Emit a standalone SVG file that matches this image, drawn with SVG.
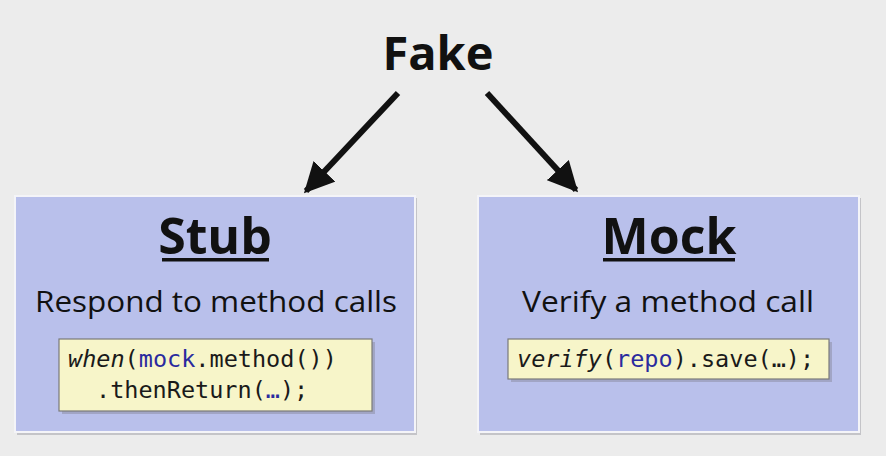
<svg xmlns="http://www.w3.org/2000/svg" width="886" height="456" viewBox="0 0 886 456">
<defs>
<style>
.box{fill:#b9c0eb;stroke:#f4f4f8;stroke-width:2}
.shadow{fill:#c4c4c8}
.title{font-family:"Open Sans","Liberation Sans",sans-serif;font-weight:bold;fill:#111;text-anchor:middle}
.sub{font-family:"Open Sans","Liberation Sans",sans-serif;font-size:30px;fill:#111;text-anchor:middle}
.code{fill:#f7f5c9;stroke:#7a7a7a;stroke-width:1.2}
.cshadow{fill:#8a8aa0;opacity:0.5}
.mono{font-family:"DejaVu Sans Mono","Liberation Mono",monospace;font-size:23.5px;fill:#1a1a1a}
.kw{fill:#2a2a9e}
.conn{stroke:#111;stroke-width:6;fill:none;marker-end:url(#ah)}
</style>
<marker id="ah" viewBox="0 0 10 10" refX="9" refY="5" markerWidth="5" markerHeight="5" orient="auto" markerUnits="strokeWidth">
<path d="M0,0 L10,5 L0,10 z" fill="#111"/>
</marker>
</defs>
<rect width="886" height="456" fill="#ececec"/>
<g id="fake">
<text class="title" x="438" y="70" font-size="47">Fake</text>
</g>
<g id="connectors">
<line class="conn" x1="398" y1="93" x2="306" y2="191"/>
<line class="conn" x1="487" y1="93" x2="576" y2="190"/>
</g>
<g id="stub">
<rect class="shadow" x="17" y="198" width="400" height="237"/>
<rect class="box" x="15" y="196" width="400" height="236"/>
<text class="title" x="215" y="254" font-size="50">Stub</text>
<rect x="162" y="258" width="107" height="3.5" fill="#111"/>
<text class="sub" x="216" y="312" textLength="362" lengthAdjust="spacingAndGlyphs">Respond to method calls</text>
<rect class="cshadow" x="62" y="342" width="313" height="72"/>
<rect class="code" x="59" y="339" width="313" height="72"/>
<text class="mono" x="68" y="367"><tspan font-style="italic">when</tspan>(<tspan class="kw">mock</tspan>.method())</text>
<text class="mono" x="96" y="398">.thenReturn(<tspan class="kw">…</tspan>);</text>
</g>
<g id="mock">
<rect class="shadow" x="480" y="198" width="381" height="237"/>
<rect class="box" x="478" y="196" width="381" height="236"/>
<text class="title" x="669" y="254" font-size="50">Mock</text>
<rect x="603" y="258" width="132" height="3.5" fill="#111"/>
<text class="sub" x="668" y="312" textLength="292" lengthAdjust="spacingAndGlyphs">Verify a method call</text>
<rect class="cshadow" x="511" y="342" width="321" height="40"/>
<rect class="code" x="508" y="339" width="321" height="40"/>
<text class="mono" x="517" y="367"><tspan font-style="italic">verify</tspan>(<tspan class="kw">repo</tspan>).save(…);</text>
</g>
</svg>
